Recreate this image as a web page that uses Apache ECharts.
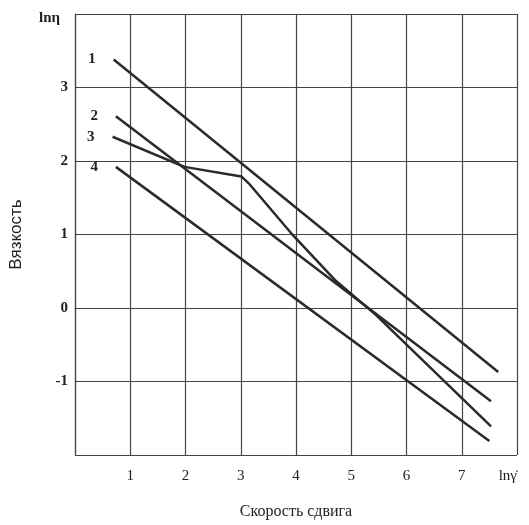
<!DOCTYPE html>
<html>
<head>
<meta charset="utf-8">
<script src="https://cdn.jsdelivr.net/npm/echarts@6/dist/echarts.min.js"></script>
<style>html,body{margin:0;padding:0;background:#fff;}#c{width:529px;height:525px;}</style>
</head>
<body>
<div id="c"></div>
<script>
// Tick labels
const xTickLabels = {1:'1',2:'2',3:'3',4:'4',5:'5',6:'6',7:'7',8:'lnγ̇'};
const yTickLabels = {'-1':'-1',0:'0',1:'1',2:'2',3:'3',4:'lnη'};
const seriesNames = ['1','2','3','4'];
// Series values [lnγ̇, lnη]
const curve1 = [[0.70, 3.38], [7.66, -0.87]];
const curve2 = [[0.74, 2.61], [7.53, -1.27]];
const curve3 = [[0.68, 2.33], [1.98, 1.92], [3.01, 1.79], [3.14, 1.70], [3.91, 1.02], [4.72, 0.37], [5.44, -0.09], [7.53, -1.61]];
const curve4 = [[0.74, 1.92], [7.50, -1.81]];
const curves = [curve1, curve2, curve3, curve4];

const chart = echarts.init(document.getElementById('c'));
const serif = '"Liberation Serif","DejaVu Serif",serif';
chart.setOption({
  backgroundColor: '#fff',
  animation: false,
  grid: {left: 73, right: 12, top: 14, bottom: 66, containLabel: false},
  xAxis: {
    type: 'value', min: 0, max: 8, interval: 1,
    name: 'Скорость сдвига', nameLocation: 'middle', nameGap: 49,
    nameTextStyle: {fontFamily: serif, fontSize: 16, color: '#222'},
    axisLine: {show: true, lineStyle: {color: '#444', width: 1.2}},
    axisTick: {show: false},
    splitLine: {show: true, lineStyle: {color: '#444', width: 1.2}},
    axisLabel: {
      margin: 14, fontFamily: serif, fontSize: 15, color: '#222',
      alignMaxLabel: 'right',
      formatter: v => xTickLabels[v] || ''
    }
  },
  yAxis: {
    type: 'value', min: -2, max: 4, interval: 1,
    name: 'Вязкость', nameLocation: 'middle', nameGap: 50, nameRotate: 90,
    nameTextStyle: {fontFamily: '"Liberation Sans",Arial,sans-serif', fontSize: 17, color: '#222'},
    axisLine: {show: true, lineStyle: {color: '#444', width: 1.2}},
    axisTick: {show: false},
    splitLine: {show: true, lineStyle: {color: '#444', width: 1.2}},
    axisLabel: {
      margin: 7, fontFamily: serif, fontSize: 15, fontWeight: 'bold', color: '#222',
      formatter: v => (yTickLabels[v] !== undefined ? (v === 4 ? '{t|' + yTickLabels[v] + '}' : yTickLabels[v]) : ''),
      rich: {t: {fontFamily: serif, fontSize: 15, fontWeight: 'bold', color: '#222', padding: [8, 8, 0, 0]}}
    }
  },
  series: curves.map((c, i) => ({
    type: 'line',
    name: seriesNames[i],
    symbol: 'circle', symbolSize: 2, showSymbol: true,
    itemStyle: {color: 'rgba(0,0,0,0)', borderWidth: 0},
    lineStyle: {color: '#2a2a2a', width: 2.5},
    data: c.map((p, j) => j === 0 ? {
      value: p,
      label: {show: true, position: 'left', distance: 17, formatter: seriesNames[i],
        fontFamily: serif, fontSize: 15, fontWeight: 'bold', color: '#222'}
    } : {value: p})
  }))
});
</script>
</body>
</html>
